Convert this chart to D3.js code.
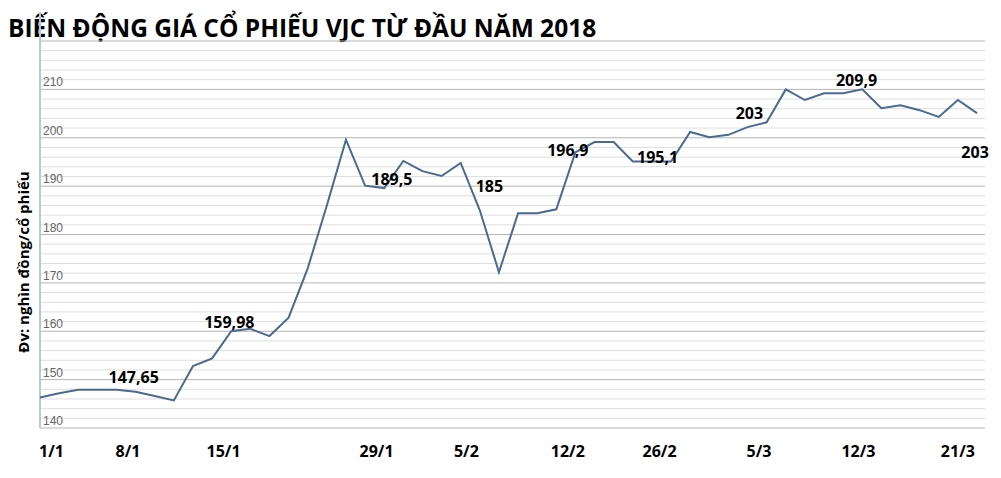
<!DOCTYPE html>
<html><head><meta charset="utf-8">
<script src="https://cdnjs.cloudflare.com/ajax/libs/d3/7.8.5/d3.min.js"></script>
<style>body{margin:0;background:#fff;font-family:"Open Sans",sans-serif}</style>
</head><body><svg id="c" width="1001" height="478"></svg>
<script>
var prices = [146.3,147.2,147.9,147.9,147.9,147.5,146.6,145.7,152.8,154.4,
  160,160.5,159,162.8,173,186,199.6,190.1,189.6,195.2,
  193.1,192.1,194.8,185,172.2,184.4,184.4,185.2,197,199.1,
  199.1,195.1,195.1,195.1,201.2,200.1,200.6,202.2,203.2,210,
  207.8,209.2,209.2,210,206.1,206.7,205.7,204.3,207.8,205.1];
var dateLabels = ["1/1","8/1","15/1","29/1","5/2","12/2","26/2","5/3","12/3","21/3"];
var dateIdx = [0.6,4.6,9.6,17.6,22.3,27.6,32.4,37.6,42.8,48];
var noteText = ["147,65","159,98","189,5","185","196,9","195,1","203","209,9","203"];
var noteIdx = [4.9,9.9,18.4,23.5,27.6,32.3,37.1,42.7,48.9];
var noteVal = [149.3,160.6,190.3,188.8,196.3,194.8,203.8,210.8,195.8];
var yTicks = [140,150,160,170,180,190,200,210];

var svg = d3.select("#c");
var x = d3.scaleLinear().domain([0, prices.length-1]).range([40, 977]);
var y = d3.scaleLinear().domain([140, 220]).range([428, 41]);

svg.append("text").attr("x",8).attr("y",37).attr("font-size",24.5).attr("font-weight","bold")
  .attr("font-family","'Open Sans',sans-serif").text("BIẾN ĐỘNG GIÁ CỔ PHIẾU VJC TỪ ĐẦU NĂM 2018");

// grid
svg.append("g").selectAll("line").data(d3.range(140, 221, 2)).enter().append("line")
  .attr("x1",40).attr("x2",985).attr("y1",d=>y(d)).attr("y2",d=>y(d))
  .attr("stroke",d=>d%10==0?"#b4b4b4":"#dedede").attr("stroke-width",1);
svg.append("line").attr("x1",40).attr("x2",40).attr("y1",12).attr("y2",428)
  .attr("stroke","#b8c6d8").attr("stroke-width",2);

svg.append("g").selectAll("text").data(yTicks).enter().append("text")
  .attr("x",43).attr("y",d=>y(d)-3).attr("font-size",12).attr("fill","#666")
  .attr("font-family","Arial,'Liberation Sans',sans-serif").text(d=>d);

svg.append("text").attr("transform","translate(29,262) rotate(-90)").attr("text-anchor","middle")
  .attr("font-size",15).attr("font-weight","bold").text("Đv: nghìn đồng/cổ phiếu");

svg.append("g").selectAll("text").data(dateLabels).enter().append("text")
  .attr("x",(d,i)=>x(dateIdx[i])).attr("y",457).attr("text-anchor","middle")
  .attr("font-size",16).attr("font-weight","bold").text(d=>d);

svg.append("path").datum(prices)
  .attr("d", d3.line().x((d,i)=>x(i)).y(d=>y(d)))
  .attr("fill","none").attr("stroke","#4a6a90").attr("stroke-width",2);

svg.append("g").selectAll("text").data(noteText).enter().append("text")
  .attr("x",(d,i)=>x(noteIdx[i])).attr("y",(d,i)=>y(noteVal[i])).attr("text-anchor","middle")
  .attr("font-size",16).attr("font-weight","bold").text(d=>d);
</script></body></html>
